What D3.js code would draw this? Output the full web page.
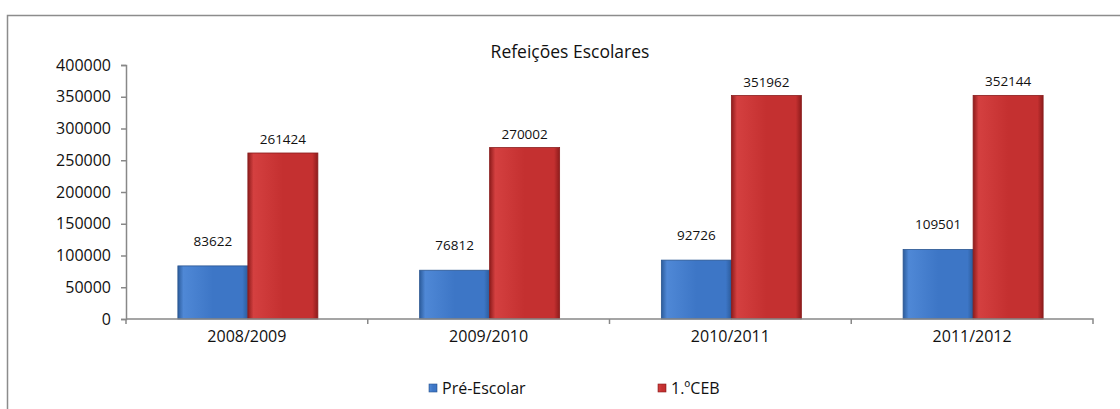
<!DOCTYPE html>
<html>
<head>
<meta charset="utf-8">
<script src="https://cdn.jsdelivr.net/npm/d3@7"></script>
<style>
  body { margin: 0; background: #fff; }
  svg { display: block; font-family: "Open Sans", sans-serif; }
</style>
</head>
<body>
<div id="chart-area"></div>
<script>
// dados do grafico
var anos = ["2008/2009", "2009/2010", "2010/2011", "2011/2012"];
var series = ["Pré-Escolar", "1.ºCEB"];
var preEscolar = [83622, 76812, 92726, 109501];
var ceb = [261424, 270002, 351962, 352144];
var yTicks = [0, 50000, 100000, 150000, 200000, 250000, 300000, 350000, 400000];

var width = 1120, height = 409;
var plotLeft = 126, plotRight = 1093, plotTop = 65, plotBottom = 319;

var svg = d3.select("#chart-area").append("svg")
	.attr("width", width)
	.attr("height", height);

// moldura
svg.append("rect")
	.attr("x", 7.5).attr("y", 15.5)
	.attr("width", 1130).attr("height", 420)
	.attr("fill", "none")
	.attr("stroke", "#8c8c8c")
	.attr("stroke-width", 1.5);

var defs = svg.append("defs");
function grad(id, dark, mid, light) {
	var g = defs.append("linearGradient").attr("id", id)
		.attr("x1", "0%").attr("x2", "100%").attr("y1", "0%").attr("y2", "0%");
	g.append("stop").attr("offset", "0%").attr("stop-color", dark);
	g.append("stop").attr("offset", "8%").attr("stop-color", light);
	g.append("stop").attr("offset", "50%").attr("stop-color", mid);
	g.append("stop").attr("offset", "92%").attr("stop-color", mid);
	g.append("stop").attr("offset", "100%").attr("stop-color", dark);
}
grad("gBlue", "#2c5c9c", "#3d76c6", "#4f88d6");
grad("gRed", "#8e1c1c", "#c43030", "#d44040");

var x0 = d3.scaleBand().domain(anos).range([plotLeft, plotRight]);
var x1 = d3.scaleBand().domain(series).range([0, 140]);
var y = d3.scaleLinear().domain([0, 400000]).range([plotBottom, plotTop]);

// titulo
svg.append("text")
	.attr("x", 570).attr("y", 58)
	.attr("text-anchor", "middle")
	.style("font-size", "17.5px")
	.attr("fill", "#111")
	.text("Refeições Escolares");

// eixo y
var yAxis = svg.append("g")
	.attr("transform", "translate(" + plotLeft + ",0)")
	.call(d3.axisLeft(y).tickValues(yTicks).tickSize(5).tickPadding(10).tickFormat(d3.format("d")))
	.attr("font-family", null).attr("font-size", null);
yAxis.selectAll("path, line").attr("stroke", "#888").attr("stroke-width", 1.5);
yAxis.selectAll("text").style("font-size", "16px").attr("fill", "#111");

// barras
var grupos = svg.selectAll(".grupo")
	.data(anos)
	.enter().append("g")
	.attr("transform", function(d){ return "translate(" + (x0(d) + x0.bandwidth() / 2 - 69) + ",0)"; });

var valores = [preEscolar, ceb];
var fills = ["url(#gBlue)", "url(#gRed)"];
var edges = ["#2a5590", "#8a1d1d"];

series.forEach(function(s, si){
	grupos.append("rect")
		.attr("x", x1(s))
		.attr("width", x1.bandwidth())
		.attr("y", function(d, i){ return y(valores[si][i]); })
		.attr("height", function(d, i){ return plotBottom - y(valores[si][i]); })
		.attr("fill", fills[si])
		.attr("stroke", edges[si])
		.attr("stroke-width", 0.8);
	// rotulos
	grupos.append("text")
		.attr("x", x1(s) + x1.bandwidth() / 2)
		.attr("y", function(d, i){ return y(valores[si][i]) - (si == 0 ? 20 : 9); })
		.attr("text-anchor", "middle")
		.style("font-size", "13.5px")
		.attr("fill", "#111")
		.text(function(d, i){ return valores[si][i]; });
});

// eixo x
var xAxis = svg.append("g")
	.attr("transform", "translate(0," + plotBottom + ")")
	.call(d3.axisBottom(x0).tickSize(0).tickPadding(12))
	.attr("font-family", null).attr("font-size", null);
xAxis.select("path").attr("stroke", "#888").attr("stroke-width", 1.5).attr("d", "M" + plotLeft + ",0H" + plotRight + "V5");
xAxis.selectAll("text").style("font-size", "16px").attr("fill", "#111");
// marcas entre categorias
svg.selectAll(".xt").data(anos).enter().append("line")
	.attr("x1", function(d){ return x0(d); }).attr("x2", function(d){ return x0(d); })
	.attr("y1", plotBottom).attr("y2", plotBottom + 5)
	.attr("stroke", "#888").attr("stroke-width", 1.5);

// legenda
var legX = [429, 658];
series.forEach(function(s, si){
	svg.append("rect")
		.attr("x", legX[si]).attr("y", 384)
		.attr("width", 8).attr("height", 8)
		.attr("fill", fills[si])
		.attr("stroke", edges[si]).attr("stroke-width", 0.6);
	svg.append("text")
		.attr("x", legX[si] + 13).attr("y", 394)
		.style("font-size", "16px")
		.attr("fill", "#111")
		.text(s);
});
</script>
</body>
</html>
